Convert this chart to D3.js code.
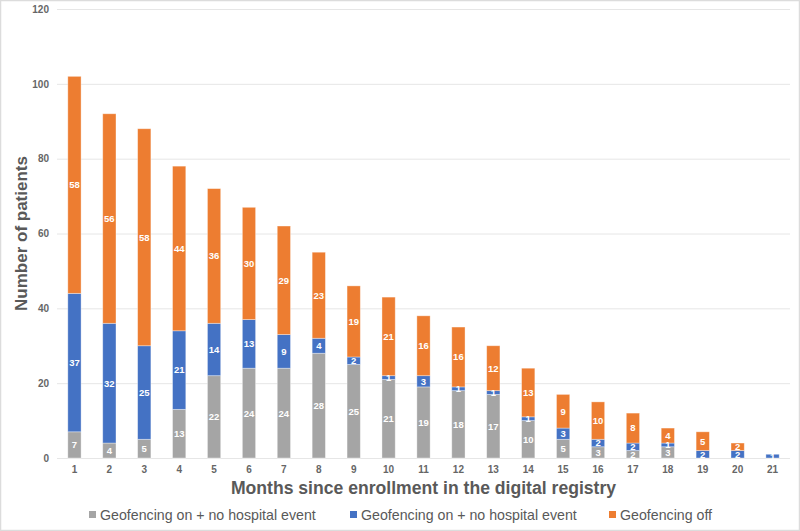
<!DOCTYPE html>
<html><head><meta charset="utf-8">
<script src="https://cdn.jsdelivr.net/npm/d3@7"></script>
<style>body{margin:0;background:#fff}svg{display:block}</style>
</head><body><svg id="c" width="800" height="531"></svg>
<script>
const months = ["1","2","3","4","5","6","7","8","9","10","11","12","13","14","15","16","17","18","19","20","21"];
const geoOnNoEvent = [7,4,5,13,22,24,24,28,25,21,19,18,17,10,5,3,2,3,0,0,0];
const geoOnEvent   = [37,32,25,21,14,13,9,4,2,1,3,1,1,1,3,2,2,1,2,2,1];
const geoOff       = [58,56,58,44,36,30,29,23,19,21,16,16,12,13,9,10,8,4,5,2,0];
const yTicks = [0,20,40,60,80,100,120];
const seriesNames = ["Geofencing on + no hospital event","Geofencing on + no hospital event","Geofencing off"];
const seriesColors = ["#a5a5a5","#4472c4","#ed7d31"];
const yTitle = "Number of patients";
const xTitle = "Months since enrollment in the digital registry";

const svg = d3.select("#c");
const W = 800, H = 531;
const plot = {left:57, right:790, top:9, bottom:458};
const textCol = "#595959";
const font = "'Liberation Sans', Arial, sans-serif";

svg.append("rect").attr("x",0.5).attr("y",0.5).attr("width",W-1).attr("height",H-1)
  .attr("fill","#fff").attr("stroke","#dcdcdc").attr("stroke-width",1.5);

const x = d3.scaleBand().domain(months).range([plot.left, plot.right]).paddingInner(0.62).paddingOuter(0.31);
const y = d3.scaleLinear().domain([0,120]).range([plot.bottom, plot.top]);

// Y axis with gridlines
const yAxis = svg.append("g").attr("transform",`translate(${plot.left},0)`)
  .call(d3.axisLeft(y).tickValues(yTicks).tickSize(-(plot.right-plot.left)).tickPadding(8));
yAxis.select(".domain").remove();
yAxis.selectAll(".tick line").attr("stroke","#e6e6e6").attr("stroke-width",1);
yAxis.selectAll(".tick text").attr("fill","#666").style("font-family",font)
  .style("font-size","10px").style("font-weight","bold");

// X axis
const xAxis = svg.append("g").attr("transform",`translate(0,${plot.bottom})`)
  .call(d3.axisBottom(x).tickSize(0).tickPadding(8));
xAxis.select(".domain").remove();
xAxis.selectAll(".tick text").attr("fill","#666").style("font-family",font)
  .style("font-size","10px").style("font-weight","bold");

// Stacked data
const rows = months.map((m,i)=>({month:m, s0:geoOnNoEvent[i], s1:geoOnEvent[i], s2:geoOff[i]}));
const keys = ["s0","s1","s2"];
const stacked = d3.stack().keys(keys)(rows);

const groups = svg.append("g").selectAll("g").data(stacked).join("g")
  .attr("fill",(d,i)=>seriesColors[i]);
groups.selectAll("rect").data(d=>d).join("rect")
  .attr("x",d=>x(d.data.month))
  .attr("width",x.bandwidth())
  .attr("y",d=>y(d[1]))
  .attr("height",d=>Math.max(0,y(d[0])-y(d[1])))
  .attr("stroke","rgba(255,255,255,0.45)").attr("stroke-width",0.8);

// Data labels
const labels = svg.append("g");
stacked.forEach((s,si)=>{
  labels.selectAll(null).data(s.filter(d=>d[1]-d[0]>0)).join("text")
    .attr("x",d=>x(d.data.month)+x.bandwidth()/2)
    .attr("y",d=>(y(d[0])+y(d[1]))/2)
    .attr("dy","0.36em")
    .attr("text-anchor","middle")
    .attr("fill","#fff")
    .style("font-family",font).style("font-size","9.5px").style("font-weight","bold")
    .text(d=>d[1]-d[0]);
});

// Axis titles
svg.append("text").attr("transform",`translate(27,${(plot.top+plot.bottom)/2}) rotate(-90)`)
  .attr("text-anchor","middle").attr("fill",textCol)
  .style("font-family",font).style("font-size","17px").style("font-weight","bold")
  .text(yTitle);
svg.append("text").attr("x",(plot.left+plot.right)/2).attr("y",494)
  .attr("text-anchor","middle").attr("fill",textCol)
  .style("font-family",font).style("font-size","17.6px").style("font-weight","bold")
  .text(xTitle);

// Legend
const legendX = [89, 350, 609];
const lg = svg.append("g");
seriesNames.forEach((n,i)=>{
  const g = lg.append("g").attr("transform",`translate(${legendX[i]},0)`);
  g.append("rect").attr("x",0).attr("y",511).attr("width",7).attr("height",7).attr("fill",seriesColors[i]);
  g.append("text").attr("x",11).attr("y",520).attr("fill",textCol)
    .style("font-family",font).style("font-size","14.2px").text(n);
});
</script>
</body></html>
